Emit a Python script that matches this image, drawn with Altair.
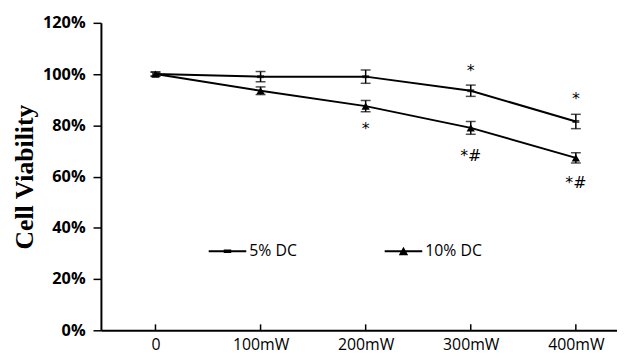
import altair as alt
import pandas as pd

doses = ["0", "100mW", "200mW", "300mW", "400mW"]
series_names = ["5% DC", "10% DC"]
viab_5 = [1.00, 0.990, 0.990, 0.935, 0.815]
err_5 = [0.008, 0.020, 0.026, 0.022, 0.028]
viab_10 = [1.00, 0.935, 0.875, 0.790, 0.673]
err_10 = [0.008, 0.015, 0.022, 0.025, 0.020]

ann_dose = [2, 3, 3, 4, 4]
ann_y = [0.786, 1.010, 0.682, 0.902, 0.574]
ann_text = ["*", "*", "*#", "*", "*#"]

rows = []
for i in range(len(doses)):
    rows.append({"i": i, "series": series_names[0], "v": viab_5[i],
                 "lo": viab_5[i] - err_5[i], "hi": viab_5[i] + err_5[i]})
    rows.append({"i": i, "series": series_names[1], "v": viab_10[i],
                 "lo": viab_10[i] - err_10[i], "hi": viab_10[i] + err_10[i]})
df = pd.DataFrame(rows)
ann = pd.DataFrame({"i": ann_dose, "y": ann_y, "t": ann_text})
ticks_df = pd.DataFrame({"i": list(range(len(doses)))})

W, H = 522, 311
xscale = alt.Scale(domain=[-0.519, W / 106.3 - 0.519], nice=False, zero=False)
yscale = alt.Scale(domain=[0, 1.2], nice=False)

label_expr = "[" + ",".join("'%s'" % d for d in doses) + "][datum.value]"
xaxis = alt.Axis(values=list(range(len(doses))), labelExpr=label_expr, ticks=False,
                 grid=False, domainColor="black", domainWidth=2, labelFont="Open Sans",
                 labelFontSize=16, labelColor="black", labelPadding=6, title=None)
yaxis = alt.Axis(values=[0, 0.2, 0.4, 0.6, 0.8, 1.0, 1.2], format=".0%", grid=False,
                 domainColor="black", domainWidth=2, tickColor="black", tickSize=8,
                 tickWidth=1.5, labelFont="Open Sans", labelFontWeight="bold",
                 labelFontSize=16.5, labelColor="black", labelPadding=8,
                 title="Cell Viability", titleFont="Liberation Serif", titleFontSize=26,
                 titleFontWeight="bold", titleColor="black", titlePadding=5)

base = alt.Chart(df)
X = alt.X("i:Q", scale=xscale, axis=xaxis)

line = base.mark_line(color="black", strokeWidth=2).encode(
    x=X, y=alt.Y("v:Q", scale=yscale, axis=yaxis), detail="series:N")
rule = base.mark_rule(color="black", strokeWidth=1.5).encode(x="i:Q", y="lo:Q", y2="hi:Q")
cap_lo = base.mark_tick(color="black", orient="horizontal", size=10, thickness=1.5).encode(
    x="i:Q", y="lo:Q")
cap_hi = base.mark_tick(color="black", orient="horizontal", size=10, thickness=1.5).encode(
    x="i:Q", y="hi:Q")
tri = base.transform_filter(alt.datum.series == series_names[1]).mark_point(
    shape="triangle-up", filled=True, color="black", size=70, opacity=1).encode(
    x="i:Q", y="v:Q")
dash = base.transform_filter(alt.datum.series == series_names[0]).mark_tick(
    color="black", orient="horizontal", size=7, thickness=3).encode(x="i:Q", y="v:Q")

legend_layer = base.mark_point(color="black", filled=True, opacity=0).encode(
    x="i:Q", y="v:Q",
    shape=alt.Shape("series:N",
                    scale=alt.Scale(domain=series_names,
                                    range=["M-1,-0.05H1V0.05H-1Z M-0.2,-0.09H0.2V0.09H-0.2Z",
                                           "M-1,-0.05H1V0.05H-1Z M-0.25,0.22L0,-0.24L0.25,0.22Z"]),
                    legend=alt.Legend(title=None, orient="none", direction="horizontal",
                                      legendX=109, legendY=212, symbolSize=1444,
                                      symbolFillColor="black", symbolStrokeColor="black",
                                      symbolStrokeWidth=0, symbolOpacity=1,
                                      labelFont="Open Sans", labelFontSize=16,
                                      labelColor="black", labelOffset=3,
                                      columnPadding=88, padding=0)))

text = alt.Chart(ann).mark_text(font="DejaVu Sans", fontSize=16, color="black",
                                fill="black", baseline="middle").encode(
    x="i:Q", y="y:Q", text="t:N")
xticks = alt.Chart(ticks_df).mark_rule(color="black", strokeWidth=1.5).encode(
    x="i:Q", y=alt.value(H), y2=alt.value(H - 6))

chart = alt.layer(xticks, line, rule, cap_lo, cap_hi, dash, tri, legend_layer, text).properties(
    width=W, height=H,
    autosize=alt.AutoSizeParams(type="none"),
    padding={"left": 94, "top": 13, "right": 0, "bottom": 25},
).configure_view(stroke=None)

chart.save("out.html", embed_options={"renderer": "svg", "actions": False})
